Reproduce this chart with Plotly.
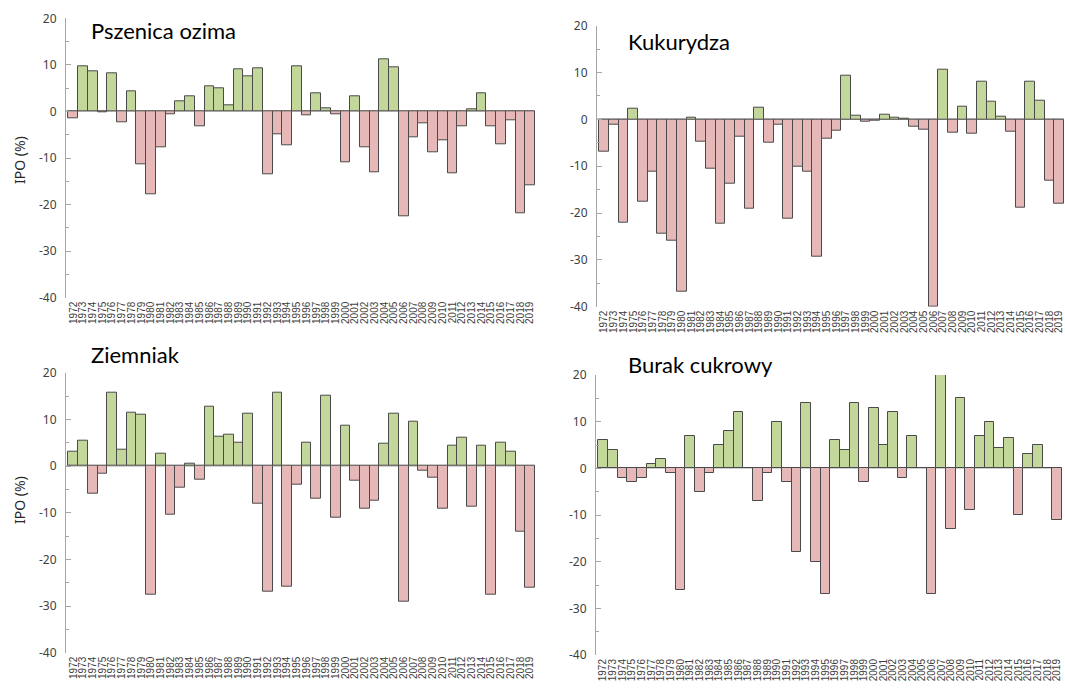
import plotly.graph_objects as go

years = [str(y) for y in range(1972, 2020)]

pszenica = [-1.4, 9.6, 8.6, -0.2, 8.1, -2.3, 4.3, -11.4, -17.8, -7.6,
            -0.7, 2.2, 3.2, -3.1, 5.4, 4.9, 1.4, 9.0, 7.5, 9.3,
            -13.6, -5.0, -7.2, 9.8, -0.9, 3.8, 0.6, -0.6, -10.9, 3.2,
            -7.6, -13.1, 11.1, 9.4, -22.5, -5.5, -2.5, -8.7, -6.1, -13.2,
            -3.1, 0.4, 3.9, -3.1, -7.0, -1.9, -21.9, -15.9]

kukurydza = [-6.9, -1.2, -22.0, 2.3, -17.6, -11.2, -24.5, -25.8, -36.9, 0.4,
             -4.8, -10.5, -22.2, -13.7, -3.7, -19.1, 2.5, -5.0, -1.1, -21.3,
             -10.2, -11.1, -29.3, -4.1, -2.4, 9.4, 0.8, -0.4, -0.2, 1.1,
             0.4, 0.2, -1.5, -2.1, -40.0, 10.7, -2.8, 2.8, -3.1, 8.1,
             3.7, 0.6, -2.7, -18.9, 8.0, 4.0, -13.1, -18.0]

ziemniak = [3.0, 5.4, -5.9, -1.6, 15.8, 3.4, 11.5, 11.1, -27.6, 2.7,
            -10.4, -4.6, 0.6, -2.9, 12.8, 6.2, 6.7, 4.9, 11.2, -8.1,
            -27.0, 15.7, -25.8, -4.1, 5.0, -7.1, 15.0, -11.0, 8.6, -3.2,
            -9.2, -7.5, 4.7, 11.3, -29.1, 9.4, -0.9, -2.4, -9.2, 4.3,
            6.1, -8.7, 4.3, -27.6, 5.0, 3.0, -14.1, -26.1]

burak = [6, 4, -2, -3, -2, 1, 2, -1, -26, 7,
         -5, -1, 5, 8, 12, 0, -7, -1, 10, -3,
         -18, 14, -20, -27, 6, 4, 14, -3, 13, 5,
         12, -2, 7, 0, -27, 20, -13, 15, -9, 7,
         10, 4.3, 6.5, -10, 3, 5, 0, -11]

titles = ["Pszenica ozima", "Kukurydza", "Ziemniak", "Burak cukrowy"]
series = [pszenica, kukurydza, ziemniak, burak]

y_ticks = [-40, -30, -20, -10, 0, 10, 20]
y_ticktext = ["-40", "-30", "-20", "-10", "0", "10", "20"]

W, H = 1065, 696
GREEN = "#c4d79b"
PINK = "#e6b9b8"

def fx(px):
    return px / W

def fy(py):
    return 1 - py / H

# panel pixel boxes: (left, right, top, bottom)
boxes = [
    (66, 535, 18.3, 297.7),
    (597, 1064, 25.7, 306.7),
    (66, 535, 372.7, 652.7),
    (596, 1062, 375, 655),
]
title_pos = [(89, 31), (626, 42), (89, 354), (626, 364)]

fig = go.Figure()
layout = dict(
    width=W, height=H,
    margin=dict(l=0, r=0, t=0, b=0, autoexpand=False),
    paper_bgcolor="white", plot_bgcolor="white",
    showlegend=False, bargap=0,
    font=dict(family="Liberation Sans, Arial, sans-serif", color="#404040"),
)
annotations = []
for i, (vals, (l, r, t, b)) in enumerate(zip(series, boxes)):
    n = i + 1
    xa = "x" if n == 1 else f"x{n}"
    ya = "y" if n == 1 else f"y{n}"
    colors = [GREEN if v >= 0 else PINK for v in vals]
    fig.add_trace(go.Bar(
        x=years, y=vals, xaxis=xa, yaxis=ya,
        marker=dict(color=colors, line=dict(color="#4a4a4a", width=1)),
        width=1.0,
    ))
    xkey = "xaxis" if n == 1 else f"xaxis{n}"
    ykey = "yaxis" if n == 1 else f"yaxis{n}"
    layout[xkey] = dict(
        domain=[fx(l), fx(r)], anchor=ya, type="category",
        range=[-0.75, 47.5], showline=False, ticks="", showgrid=False,
        tickmode="array", tickvals=years, ticktext=years,
        tickangle=-90, tickfont=dict(size=10, color="#404040",
                                     family="Liberation Sans, Arial, sans-serif"),
        zeroline=False, ticklabelstandoff=1, automargin=False,
    )
    layout[ykey] = dict(
        domain=[fy(b), fy(t)], anchor=xa, range=[-40, 20],
        tickmode="array", tickvals=y_ticks, ticktext=y_ticktext,
        showline=True, linecolor="#a6a6a6", linewidth=1.2,
        ticks="inside", ticklen=5, tickcolor="#a6a6a6",
        minor=dict(tickvals=[-35, -25, -15, -5, 5, 15], ticks="inside",
                   ticklen=3, tickcolor="#a6a6a6"),
        showgrid=False, zeroline=True, zerolinecolor="#d0d0d0", zerolinewidth=1.5,
        tickfont=dict(size=12, color="#404040", family="Noto Sans, sans-serif"),
        ticklabelstandoff=6, automargin=False,
    )
    tx, ty = title_pos[i]
    annotations.append(dict(
        text=titles[i], x=fx(tx), y=fy(ty), xref="paper", yref="paper",
        xanchor="left", yanchor="middle", showarrow=False,
        font=dict(size=22, color="#000000", family="Lato, sans-serif"),
    ))

for cy in [160, 500]:
    annotations.append(dict(
        text="IPO (%)", x=fx(20), y=fy(cy), xref="paper", yref="paper",
        xanchor="center", yanchor="middle", showarrow=False, textangle=-90,
        font=dict(size=14, color="#262626", family="Noto Sans, sans-serif"),
    ))

layout["annotations"] = annotations
fig.update_layout(**layout)
fig.write_html(
    "out.html",
    config={"displayModeBar": False},
    post_script="document.body.style.margin='0';document.body.style.overflow='hidden';",
)
